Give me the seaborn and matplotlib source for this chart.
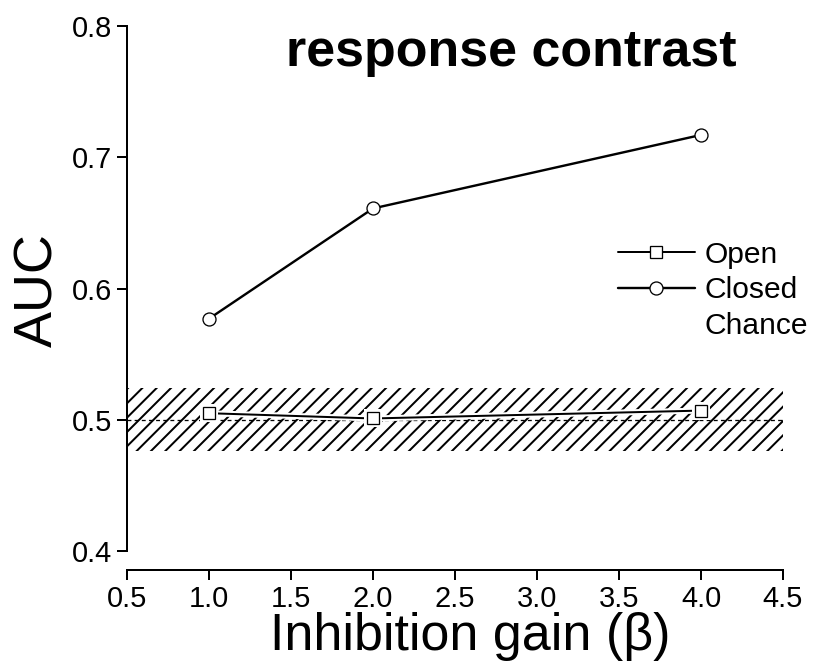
import matplotlib
matplotlib.use("Agg")
import matplotlib.pyplot as plt
import matplotlib.patheffects as pe
import seaborn as sns
import pandas as pd
from matplotlib.lines import Line2D

DPI = 86
W, H = 821, 668


def pt(px):
    return px * 72.0 / DPI


sns.set_style("ticks")
plt.rcParams['font.family'] = ['Liberation Sans', 'DejaVu Sans']
for k in ['text.color', 'axes.labelcolor', 'xtick.color', 'ytick.color', 'axes.edgecolor']:
    plt.rcParams[k] = 'black'
plt.rcParams['hatch.linewidth'] = pt(2.0)

gain = [1.0, 2.0, 4.0]
open_auc = [0.505, 0.501, 0.507]
closed_auc = [0.577, 0.661, 0.717]
chance_level = 0.5
chance_low = 0.476
chance_high = 0.524
xticks = [0.5, 1.0, 1.5, 2.0, 2.5, 3.0, 3.5, 4.0, 4.5]
yticks = [0.4, 0.5, 0.6, 0.7, 0.8]
legend_labels = ["Open", "Closed", "Chance"]

df = pd.DataFrame({
    "gain": gain * 2,
    "AUC": open_auc + closed_auc,
    "cond": ["Open"] * 3 + ["Closed"] * 3,
})

fig = plt.figure(figsize=(W / DPI, H / DPI), dpi=DPI)
ax = fig.add_axes([127 / W, 1 - 570 / H, (783 - 127) / W, (570 - 26) / H])

# chance band
ax.fill_between([0.5, 4.5], chance_low, chance_high, facecolor="none",
                edgecolor="black", hatch="//", linewidth=0)
ax.plot([0.5, 4.5], [chance_level, chance_level], ls=(0, (3, 2.5)),
        color="black", lw=pt(1.3))

halo = [pe.Stroke(linewidth=pt(6), foreground="white"), pe.Normal()]
sns.lineplot(data=df[df.cond == "Open"], x="gain", y="AUC", color="black",
             marker="s", markersize=pt(12), markerfacecolor="white",
             markeredgecolor="black", markeredgewidth=pt(1.3), lw=pt(2),
             ax=ax, legend=False, path_effects=halo)
sns.lineplot(data=df[df.cond == "Closed"], x="gain", y="AUC", color="black",
             marker="o", markersize=pt(13), markerfacecolor="white",
             markeredgecolor="black", markeredgewidth=pt(1.3), lw=pt(2.4),
             ax=ax, legend=False)

ax.set_xlim(0.5, 4.5)
ax.set_ylim(0.4 - 19 / 1315, 0.8)
ax.spines['left'].set_bounds(0.4, 0.8)
ax.spines['top'].set_visible(False)
ax.spines['right'].set_visible(False)
ax.spines['left'].set_linewidth(pt(2))
ax.spines['bottom'].set_linewidth(pt(2))
ax.set_xticks(xticks)
ax.set_xticklabels([f"{v:.1f}" for v in xticks])
ax.set_yticks(yticks)
ax.set_yticklabels([f"{v:.1f}" for v in yticks])
ax.tick_params(axis='both', labelsize=pt(29), width=pt(2), length=pt(10),
               direction='out', pad=pt(5))

ax.set_xlabel("Inhibition gain (β)", fontsize=pt(52))
ax.xaxis.set_label_coords((470 - 127) / 656, (570 - 612) / 544)
ax.set_ylabel("AUC", fontsize=pt(54))
ax.yaxis.set_label_coords((63 - 127) / 656, (570 - 290) / 544)
ax.text((511 - 127) / 656, (570 - 66) / 544, "response contrast",
        transform=ax.transAxes, ha="center", va="baseline",
        fontsize=pt(52), fontweight="bold")

handles = [
    Line2D([], [], color="black", lw=pt(2), marker="s", markersize=pt(12),
           markerfacecolor="white", markeredgecolor="black", markeredgewidth=pt(1.3)),
    Line2D([], [], color="black", lw=pt(2.4), marker="o", markersize=pt(13),
           markerfacecolor="white", markeredgecolor="black", markeredgewidth=pt(1.3)),
    Line2D([], [], color="none"),
]
ax.legend(handles, legend_labels, loc="upper left",
          bbox_to_anchor=(618 / W, 1 - 241 / H), bbox_transform=fig.transFigure,
          frameon=False, fontsize=pt(30), handlelength=2.55, handletextpad=0.33,
          labelspacing=0.25, borderpad=0, borderaxespad=0)

fig.savefig("out.png", dpi=DPI)
